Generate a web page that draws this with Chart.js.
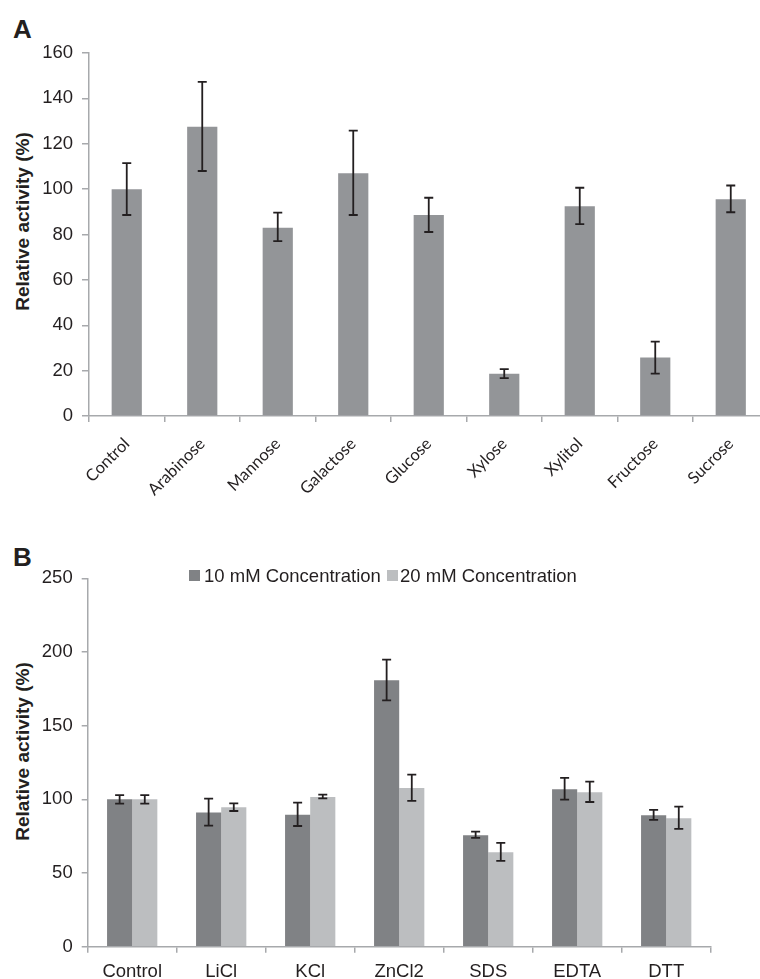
<!DOCTYPE html>
<html>
<head>
<meta charset="utf-8">
<script src="https://cdn.jsdelivr.net/npm/chart.js@4"></script>
<style>
  body { margin: 0; width: 760px; height: 979px; overflow: hidden; position: relative; background: #fff; font-family: 'Liberation Sans', Arial, sans-serif; color: #231f20; }
  canvas { position: absolute; left: 0; }
  .panel { position: absolute; left: 13px; font-weight: bold; font-size: 26px; line-height: 26px; }
  .ytitle { position: absolute; width: 260px; height: 19px; line-height: 19px; font-size: 19px; font-weight: bold; text-align: center; transform: rotate(-90deg); }
  .lgbox { position: absolute; width: 11px; height: 11px; }
  .lgtext { position: absolute; font-size: 18.5px; line-height: 18.5px; white-space: nowrap; }
</style>
</head>
<body>
<div class="panel" style="top:16px">A</div>
<div class="panel" style="top:544px">B</div>
<div class="ytitle" style="left:-108px; top:211.5px">Relative activity (%)</div>
<div class="ytitle" style="left:-108px; top:742px">Relative activity (%)</div>

<canvas id="chartA" width="775" height="500" style="top:0"></canvas>
<canvas id="chartB" width="760" height="480" style="top:500px"></canvas>

<div class="lgbox" style="left:189px; top:570px; background:#808285"></div>
<div class="lgtext" style="left:204px; top:567px">10 mM Concentration</div>
<div class="lgbox" style="left:387px; top:570px; background:#bcbec0"></div>
<div class="lgtext" style="left:400px; top:567px">20 mM Concentration</div>

<script>
// panel A - sugars
var sugars = ['Control', 'Arabinose', 'Mannose', 'Galactose', 'Glucose', 'Xylose', 'Xylitol', 'Fructose', 'Sucrose'];
var sugarActivity = [100, 127.5, 83, 107, 88.6, 18.6, 92.5, 25.8, 95.5];
var sugarErrHigh = [111.5, 147.3, 89.6, 125.8, 96.2, 20.7, 100.6, 32.8, 101.6];
var sugarErrLow = [88.6, 108, 77.1, 88.6, 81.1, 16.7, 84.6, 18.7, 89.8];

// panel B - metal ions / reagents
var reagents = ['Control', 'LiCl', 'KCl', 'ZnCl2', 'SDS', 'EDTA', 'DTT'];
var conc10 = [100, 91, 89.6, 180.8, 75.6, 106.8, 89.2];
var conc10High = [102.8, 100.5, 97.8, 194.8, 78.1, 114.5, 92.8];
var conc10Low = [97.1, 82.1, 81.9, 167.2, 73.8, 99.8, 86];
var conc20 = [100, 94.6, 101.6, 107.7, 64.1, 104.8, 87.1];
var conc20High = [102.8, 97.3, 103.2, 116.8, 70.4, 112, 95];
var conc20Low = [97.1, 92.1, 100.7, 98.9, 58.2, 98.2, 79.9];

var axisGrey = '#a7a9ac';
var textCol = '#231f20';
var fontFam = "'Liberation Sans', Arial, sans-serif";

var errorBars = {
    id: 'errorBars',
    afterDatasetsDraw: function (chart) {
        var ctx = chart.ctx, y = chart.scales.y;
        ctx.save();
        ctx.strokeStyle = textCol;
        ctx.lineWidth = 1.8;
        chart.data.datasets.forEach(function (ds, i) {
            var meta = chart.getDatasetMeta(i);
            meta.data.forEach(function (bar, j) {
                var top = y.getPixelForValue(ds.errHigh[j]);
                var bot = y.getPixelForValue(ds.errLow[j]);
                ctx.beginPath();
                ctx.moveTo(bar.x, top); ctx.lineTo(bar.x, bot);
                ctx.moveTo(bar.x - 4.5, top); ctx.lineTo(bar.x + 4.5, top);
                ctx.moveTo(bar.x - 4.5, bot); ctx.lineTo(bar.x + 4.5, bot);
                ctx.stroke();
            });
        });
        ctx.restore();
    }
};

Chart.defaults.font.family = fontFam;
Chart.defaults.color = textCol;

new Chart(document.getElementById('chartA'), {
    type: 'bar',
    data: {
        labels: sugars,
        datasets: [{
            data: sugarActivity,
            errHigh: sugarErrHigh,
            errLow: sugarErrLow,
            backgroundColor: '#939598',
            borderWidth: 0,
            barPercentage: 0.4,
            categoryPercentage: 1
        }]
    },
    options: {
        responsive: false,
        animation: false,
        layout: { padding: { top: 53, left: 0, right: 6.5, bottom: 0 } },
        plugins: { legend: { display: false }, tooltip: { enabled: false } },
        scales: {
            x: {
                grid: { drawOnChartArea: false, color: axisGrey, lineWidth: 1.5, tickLength: 6 },
                border: { color: axisGrey, width: 1.5 },
                ticks: {
                    font: { family: 'Lato', size: 16.5 },
                    color: textCol,
                    minRotation: 45, maxRotation: 45,
                    padding: 12
                },
                afterFit: function (s) { s.height = 84; }
            },
            y: {
                min: 0, max: 160,
                grid: { drawOnChartArea: false, color: axisGrey, lineWidth: 1.5, tickLength: 7 },
                border: { color: axisGrey, width: 1.5 },
                ticks: { stepSize: 20, font: { size: 18.5 }, color: textCol, padding: 9 },
                afterFit: function (s) { s.width = 89; }
            }
        }
    },
    plugins: [errorBars]
});

new Chart(document.getElementById('chartB'), {
    type: 'bar',
    data: {
        labels: reagents,
        datasets: [{
            label: '10 mM Concentration',
            data: conc10,
            errHigh: conc10High,
            errLow: conc10Low,
            backgroundColor: '#808285',
            borderWidth: 0,
            barPercentage: 1,
            categoryPercentage: 0.565
        }, {
            label: '20 mM Concentration',
            data: conc20,
            errHigh: conc20High,
            errLow: conc20Low,
            backgroundColor: '#bcbec0',
            borderWidth: 0,
            barPercentage: 1,
            categoryPercentage: 0.565
        }]
    },
    options: {
        responsive: false,
        animation: false,
        layout: { padding: { top: 78.3, left: 0, right: 49.3, bottom: 0 } },
        plugins: { legend: { display: false }, tooltip: { enabled: false } },
        scales: {
            x: {
                grid: { drawOnChartArea: false, color: axisGrey, lineWidth: 1.5, tickLength: 6 },
                border: { color: axisGrey, width: 1.5 },
                ticks: { font: { size: 18.5 }, color: textCol, padding: 8, maxRotation: 0 },
                afterFit: function (s) { s.height = 33.3; }
            },
            y: {
                min: 0, max: 250,
                grid: { drawOnChartArea: false, color: axisGrey, lineWidth: 1.5, tickLength: 6 },
                border: { color: axisGrey, width: 1.5 },
                ticks: { stepSize: 50, font: { size: 18.5 }, color: textCol, padding: 9 },
                afterFit: function (s) { s.width = 87.7; }
            }
        }
    },
    plugins: [errorBars]
});
</script>
</body>
</html>
